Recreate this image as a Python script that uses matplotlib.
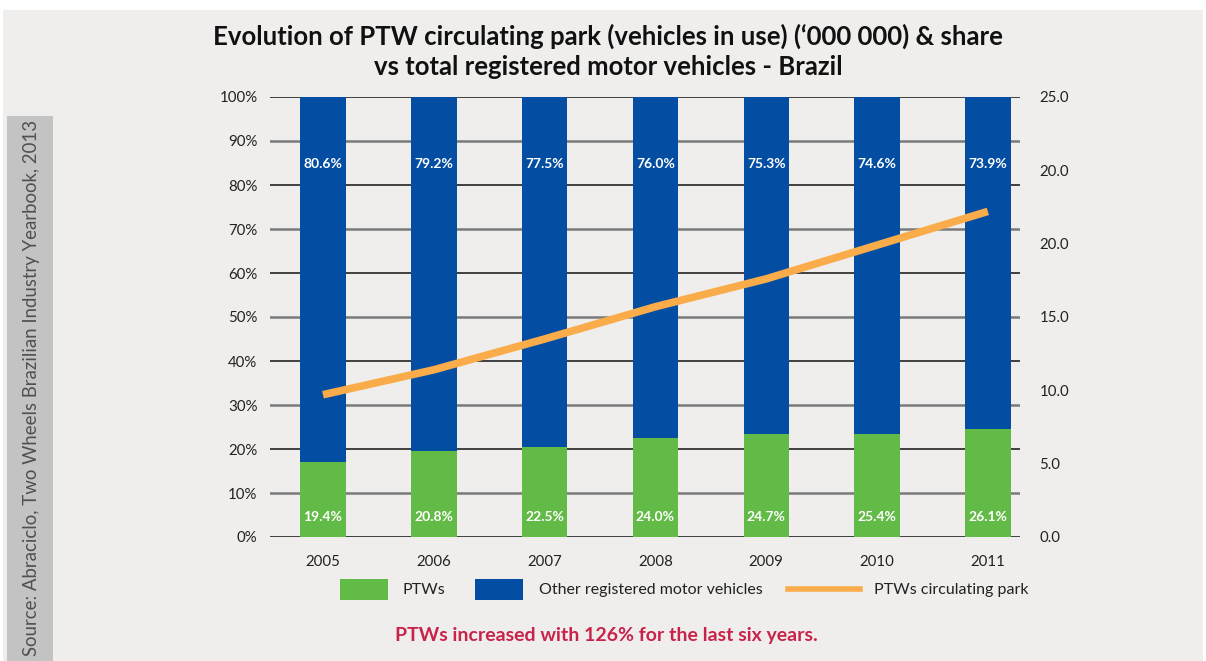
import numpy as np
import matplotlib.pyplot as plt
from matplotlib.patches import Rectangle
from matplotlib.lines import Line2D

plt.rcParams['font.family'] = ['Lato', 'DejaVu Sans']

years = ['2005', '2006', '2007', '2008', '2009', '2010', '2011']
ptw_share = [17.1, 19.5, 20.5, 22.5, 23.4, 23.4, 24.5]        # bar heights as drawn
ptw_labels = ['19.4%', '20.8%', '22.5%', '24.0%', '24.7%', '25.4%', '26.1%']
other_labels = ['80.6%', '79.2%', '77.5%', '76.0%', '75.3%', '74.6%', '73.9%']
park = [9.7, 11.4, 13.5, 15.7, 17.6, 19.9, 22.2]
right_ticks = [0, 5, 10, 15, 20, 25, 30]
right_labels = ['0.0', '5.0', '10.0', '15.0', '20.0', '20.0', '25.0']

green = '#62bb46'
blue = '#034ea2'
orange = '#fbac4a'
bg = '#efeeec'

W, H = 1206, 661
fig = plt.figure(figsize=(W / 100, H / 100), dpi=100, facecolor='white')

def fx(px):
    return px / W

def fy(py):
    return 1 - py / H

# panel background and source band
fig.patches.append(Rectangle((fx(3), 0), fx(1200), fy(10), transform=fig.transFigure,
                             facecolor=bg, edgecolor='none', zorder=-10))
fig.patches.append(Rectangle((fx(7), 0), fx(46), fy(116), transform=fig.transFigure,
                             facecolor='#c3c3c3', edgecolor='none', zorder=-9))
fig.text(fx(32), fy(656), 'Source: Abraciclo, Two Wheels Brazilian Industry Yearbook, 2013',
         rotation=90, ha='center', va='bottom', fontsize=13.4, color='#505050')

fig.text(fx(608), fy(51), 'Evolution of PTW circulating park (vehicles in use) (\u2018000 000) & share\n'
         'vs total registered motor vehicles - Brazil', ha='center', va='center',
         fontsize=18.5, fontweight='bold', color='#111111', linespacing=1.3)

ax = fig.add_axes([fx(270), fy(537), fx(1020 - 270), fy(97) - fy(537)])
ax.set_facecolor('none')
x = np.arange(len(years))
other = [100 - v for v in ptw_share]
ax.bar(x, ptw_share, width=0.41, color=green, zorder=3)
ax.bar(x, other, bottom=ptw_share, width=0.41, color=blue, zorder=3)
for i in range(len(years)):
    ax.text(x[i], 4.5, ptw_labels[i], ha='center', va='center', color='white',
            fontsize=10, fontweight='bold', zorder=4)
    ax.text(x[i], 84.8, other_labels[i], ha='center', va='center', color='white',
            fontsize=10, fontweight='bold', zorder=4)

for k, v in enumerate(range(0, 101, 10)):
    if k % 2 == 0:
        ax.axhline(v, color='#111111', lw=1.1, zorder=1)
    else:
        ax.axhline(v, color='#7a7a7a', lw=1.8, zorder=1)

ax.set_xlim(-0.478, 6.29)
ax.set_ylim(0, 100)
ax.set_yticks(range(0, 101, 10))
ax.set_yticklabels([f'{v}%' for v in range(0, 101, 10)])
ax.set_xticks(x)
ax.set_xticklabels(years)
ax.tick_params(axis='both', length=0, labelsize=10.8, colors='#222222')
ax.tick_params(axis='y', pad=9)
ax.tick_params(axis='x', pad=13)
for s in ax.spines.values():
    s.set_visible(False)

ax2 = ax.twinx()
ax2.plot(x, park, color=orange, lw=5.5, solid_capstyle='butt', zorder=5)
ax2.set_ylim(0, 30)
ax2.set_yticks(right_ticks)
ax2.set_yticklabels(right_labels)
ax2.tick_params(axis='y', length=0, labelsize=10.8, colors='#222222', pad=14)
for s in ax2.spines.values():
    s.set_visible(False)

# legend
fig.patches.append(Rectangle((fx(340), fy(600)), fx(48), fy(579) - fy(600), transform=fig.transFigure,
                             facecolor=green, edgecolor='none'))
fig.text(fx(403), fy(590), 'PTWs', ha='left', va='center', fontsize=11.5, color='#222222')
fig.patches.append(Rectangle((fx(475), fy(600)), fx(48), fy(579) - fy(600), transform=fig.transFigure,
                             facecolor=blue, edgecolor='none'))
fig.text(fx(539), fy(590), 'Other registered motor vehicles', ha='left', va='center',
         fontsize=11.5, color='#222222')
fig.lines.append(Line2D([fx(788), fx(860)], [fy(589), fy(589)], transform=fig.transFigure,
                        color=orange, lw=4))
fig.text(fx(874), fy(590), 'PTWs circulating park', ha='left', va='center',
         fontsize=11.5, color='#222222')

fig.text(fx(606), fy(636), 'PTWs increased with 126% for the last six years.', ha='center',
         va='center', fontsize=14, fontweight='bold', color='#c8234a')

fig.savefig('out.png', dpi=100, facecolor='white')
